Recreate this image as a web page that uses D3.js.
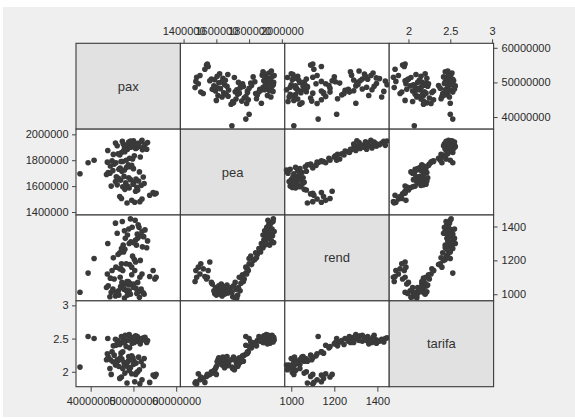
<!DOCTYPE html>
<html><head><meta charset="utf-8">
<script src="https://cdn.jsdelivr.net/npm/d3@7"></script>
<style>
body{margin:0;background:#fff}
svg{display:block}
text{font-family:"Liberation Sans",Arial,Helvetica,sans-serif}
</style>
</head><body>
<svg id="chart" width="575" height="419"></svg>
<script>
// ---- data ----
const variables = ["pax", "pea", "rend", "tarifa"];

const pax = [
  48500000,50300000,51500000,49600000,52000000,47200000,55000000,54600000,53800000,50500000,
  51000000,48000000,46800000,55300000,
  49000000,50800000,47500000,48600000,51800000,46200000,49900000,52500000,48200000,50100000,
  45800000,51200000,47000000,49300000,50600000,46500000,48900000,52300000,47800000,44800000,
  44500000,46000000,37500000,45200000,47900000,43700000,49200000,46600000,44100000,48400000,
  45500000,47300000,50000000,43900000,46900000,48800000,45000000,49600000,47100000,44600000,51400000,
  39400000,40800000,
  47500000,49100000,45900000,50200000,48300000,46400000,51600000,47700000,49800000,52100000,
  45300000,48000000,50700000,46800000,53100000,49400000,47200000,51000000,44000000,
  48600000,50500000,47900000,52400000,49000000,51300000,46200000,50400000,48100000,51100000,
  52700000,47600000,49700000,50900000,45800000,53300000,48900000,51800000,47400000,50000000,52000000,49300000
];
const pea = [
  1470000,1475000,1480000,1490000,1500000,1505000,1540000,1550000,1530000,1560000,
  1570000,1575000,1520000,1545000,
  1585000,1590000,1595000,1600000,1605000,1610000,1615000,1620000,1625000,1630000,
  1635000,1640000,1645000,1650000,1655000,1660000,1665000,1670000,1675000,1600000,
  1700000,1672000,1695000,1720000,1725000,1690000,1750000,1730000,1705000,1745000,
  1770000,1715000,1735000,1785000,1740000,1765000,1795000,1760000,1790000,1755000,1710000,
  1780000,1800000,
  1790000,1815000,1780000,1835000,1800000,1850000,1825000,1870000,1810000,1880000,
  1845000,1865000,1895000,1840000,1885000,1900000,1860000,1905000,1875000,
  1885000,1890000,1895000,1900000,1905000,1908000,1912000,1915000,1918000,1920000,
  1922000,1925000,1927000,1930000,1933000,1936000,1940000,1943000,1946000,1950000,1953000,1948000
];
const rend = [
  1075,1140,1100,1160,1120,1180,1090,1140,1105,1190,
  1070,1060,1150,1100,
  1020,1005,1040,995,1030,1010,1050,1000,1025,1060,
  990,1015,1045,1000,1035,1020,1055,1008,1030,1012,
  985,1010,1012,1030,978,1040,1065,995,1050,1020,
  1090,1070,1040,1120,1100,1075,1140,1115,1150,1095,982,
  1125,1211,
  1140,1175,1160,1205,1180,1235,1200,1250,1225,1280,
  1215,1265,1290,1245,1275,1310,1270,1330,1300,
  1350,1320,1375,1340,1300,1395,1360,1437,1330,1410,
  1380,1290,1396,1355,1420,1315,1385,1345,1430,1305,1370,1445
];
const tarifa = [
  1.83,1.85,1.82,1.97,1.88,1.92,1.93,1.95,1.84,1.96,
  2.00,1.98,1.90,1.96,
  2.02,1.99,2.05,2.08,2.15,2.18,2.21,2.20,2.12,2.16,
  2.10,2.22,2.19,2.06,2.13,2.17,2.23,2.09,2.14,1.96,
  2.05,2.12,2.07,2.15,2.10,2.18,2.20,2.08,2.22,2.14,
  2.25,2.19,2.11,2.27,2.21,2.16,2.30,2.24,2.28,2.18,2.03,
  2.53,2.50,
  2.30,2.36,2.40,2.44,2.38,2.47,2.42,2.50,2.45,2.48,
  2.39,2.46,2.52,2.41,2.44,2.49,2.53,2.46,2.50,
  2.47,2.54,2.44,2.51,2.56,2.48,2.42,2.50,2.55,2.46,
  2.52,2.44,2.43,2.53,2.49,2.47,2.55,2.50,2.45,2.52,2.48,2.51
];

const paxTicks = [40000000, 50000000, 60000000];
const peaTicks = [1400000, 1600000, 1800000, 2000000];
const rendTicks = [1000, 1200, 1400];
const tarifaTicks = [2, 2.5, 3];

// ---- layout ----
const series = {pax, pea, rend, tarifa};
const tickSets = {pax: paxTicks, pea: peaTicks, rend: rendTicks, tarifa: tarifaTicks};
const xDom = {pax:[36.57e6, 60.98e6], pea:[1.3805e6, 2.018e6], rend:[970, 1455], tarifa:[1.77, 3.018]};
const yDom = {pax:[36.5e6, 61.3e6],  pea:[1.377e6, 2.040e6], rend:[961, 1468], tarifa:[1.775, 3.068]};

const L = 76, R = 493.6, T = 43.3, B = 386.7;
const n = variables.length;
const cw = (R - L) / n, ch = (B - T) / n;
const fmt = v => (v >= 1000 ? d3.format("d")(v) : String(v));

const svg = d3.select("#chart");
svg.append("rect").attr("x", 3).attr("y", 7).attr("width", 572).attr("height", 410).attr("fill", "#efefef");

const rows = series.pax.map((_, k) => ({pax: pax[k], pea: pea[k], rend: rend[k], tarifa: tarifa[k]}));

const xScales = variables.map((v, j) => d3.scaleLinear().domain(xDom[v]).range([L + j * cw, L + (j + 1) * cw]));
const yScales = variables.map((v, i) => d3.scaleLinear().domain(yDom[v]).range([T + (i + 1) * ch, T + i * ch]));

for (let i = 0; i < n; i++) {
  for (let j = 0; j < n; j++) {
    const g = svg.append("g");
    g.append("rect")
      .attr("x", L + j * cw).attr("y", T + i * ch)
      .attr("width", cw).attr("height", ch)
      .attr("fill", i === j ? "#e1e1e1" : "#ffffff")
      .attr("stroke", "#3a3a3a").attr("stroke-width", 1.1);
    if (i === j) {
      g.append("text")
        .attr("x", L + (j + 0.5) * cw).attr("y", T + (i + 0.5) * ch)
        .attr("text-anchor", "middle").attr("dominant-baseline", "central")
        .attr("font-size", 13).attr("fill", "#333")
        .text(variables[i]);
    } else {
      const xs = xScales[j], ys = yScales[i];
      const vx = variables[j], vy = variables[i];
      g.selectAll("circle").data(rows).join("circle")
        .attr("cx", d => xs(d[vx])).attr("cy", d => ys(d[vy]))
        .attr("r", 2.8).attr("fill", "#3a3a3a");
    }
  }
}

function styleAxis(sel) {
  sel.select(".domain").remove();
  sel.selectAll(".tick line").attr("stroke", "#444");
  sel.selectAll(".tick text").attr("fill", "#2a2a2a").attr("font-size", 11)
     .attr("font-family", '"Liberation Sans",Arial,Helvetica,sans-serif');
}

// top axes: pea, tarifa
[1, 3].forEach(j => {
  const v = variables[j];
  svg.append("g").attr("transform", `translate(0,${T})`)
    .call(d3.axisTop(xScales[j]).tickValues(tickSets[v]).tickSize(4).tickPadding(4.5).tickFormat(fmt))
    .call(styleAxis);
});
// bottom axes: pax, rend
[0, 2].forEach(j => {
  const v = variables[j];
  svg.append("g").attr("transform", `translate(0,${B})`)
    .call(d3.axisBottom(xScales[j]).tickValues(tickSets[v]).tickSize(5).tickPadding(5.5).tickFormat(fmt))
    .call(styleAxis);
});
// left axes: pea, tarifa
[1, 3].forEach(i => {
  const v = variables[i];
  svg.append("g").attr("transform", `translate(${L},0)`)
    .call(d3.axisLeft(yScales[i]).tickValues(tickSets[v]).tickSize(4).tickPadding(3.5).tickFormat(fmt))
    .call(styleAxis);
});
// right axes: pax, rend
[0, 2].forEach(i => {
  const v = variables[i];
  svg.append("g").attr("transform", `translate(${R},0)`)
    .call(d3.axisRight(yScales[i]).tickValues(tickSets[v]).tickSize(4).tickPadding(4).tickFormat(fmt))
    .call(styleAxis);
});
</script>
</body></html>
